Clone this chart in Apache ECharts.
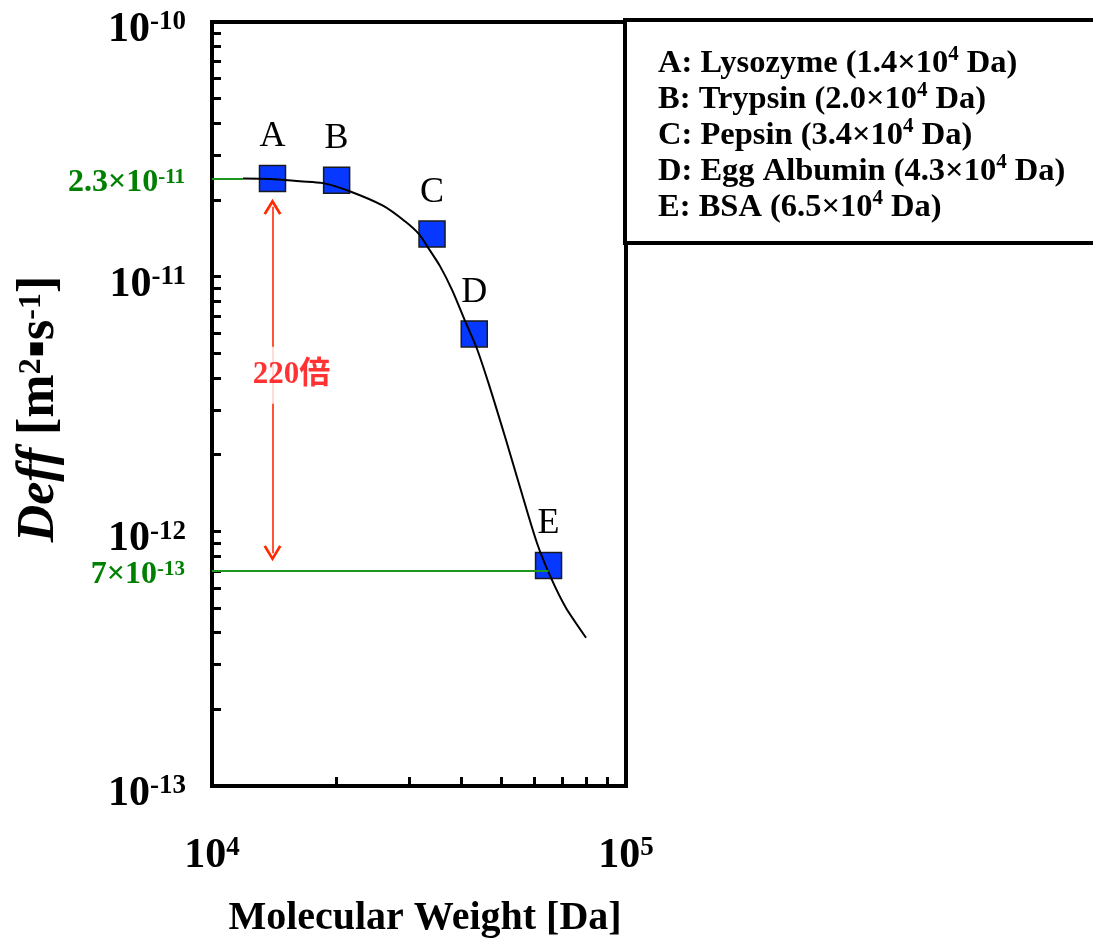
<!DOCTYPE html>
<html><head><meta charset="utf-8">
<script src="https://cdn.jsdelivr.net/npm/echarts@6/dist/echarts.min.js"></script>
<style>html,body{margin:0;padding:0;background:#fff}#c{width:1093px;height:941px}</style>
</head><body><div id="c"></div>
<script>
// ---------- data ----------
const proteinLetters = ['A', 'B', 'C', 'D', 'E'];
const proteinNames = ['Lysozyme', 'Trypsin', 'Pepsin', 'Egg Albumin', 'BSA'];
const legendMantissa = ['1.4', '2.0', '3.4', '4.3', '6.5'];
const molecularWeight = [1.4e4, 2.0e4, 3.4e4, 4.3e4, 6.5e4];
const deffValues = [2.43e-11, 2.39e-11, 1.47e-11, 5.96e-12, 7.35e-13];

const curveMW = [1.188e4, 1.381e4, 1.631e4, 1.854e4, 2.142e4, 2.588e4, 2.925e4, 3.162e4, 3.306e4, 3.554e4,
  3.800e4, 4.085e4, 4.367e4, 4.693e4, 5.103e4, 5.546e4, 6.095e4, 6.590e4, 7.164e4, 8.007e4];
const curveDeff = [2.43e-11, 2.42e-11, 2.37e-11, 2.33e-11, 2.17e-11, 1.90e-11, 1.65e-11, 1.47e-11, 1.32e-11, 1.10e-11,
  8.87e-12, 6.70e-12, 5.20e-12, 3.66e-12, 2.35e-12, 1.49e-12, 9.00e-13, 6.56e-13, 5.00e-13, 3.82e-13];

const xTickValues = [1e4, 2e4, 3e4, 4e4, 5e4, 6e4, 7e4, 8e4, 9e4, 1e5];
const xLabelValues = [1e4, 1e5];
const yTickValues = [1e-13, 2e-13, 3e-13, 4e-13, 5e-13, 6e-13, 7e-13, 8e-13, 9e-13,
  1e-12, 2e-12, 3e-12, 4e-12, 5e-12, 6e-12, 7e-12, 8e-12, 9e-12,
  1e-11, 2e-11, 3e-11, 4e-11, 5e-11, 6e-11, 7e-11, 8e-11, 9e-11, 1e-10];
const yLabelValues = [1e-13, 1e-12, 1e-11, 1e-10];

// reference lines (green)
const refLineDeff = [2.42e-11, 7e-13];
const refLineEndMW = [1.188e4, 6.5e4];
const refLineMantissa = ['2.3', '7'];
const refLineExponent = ['-11', '-13'];

// fold-change arrow (red)
const foldArrowMW = 1.4e4;
const foldArrowDeff = [1.88e-11, 8.2e-13];
const foldLabelDeff = 4.1e-12;
const foldLabelText = '220倍';

// ---------- chart ----------
const SERIF = '"Liberation Serif", "Times New Roman", "Noto Sans CJK JP", serif';
const pow10 = v => '{b|10}{s|' + Math.round(Math.log10(v)) + '}';
const tickRich = {
  b: {fontFamily: SERIF, fontWeight: 'bold', fontSize: 42, lineHeight: 42, verticalAlign: 'bottom', color: '#000'},
  s: {fontFamily: SERIF, fontWeight: 'bold', fontSize: 27, lineHeight: 32, verticalAlign: 'top', color: '#000'}
};

const chevron = 'path://M0,16 L9,0 L18,16 L15.6,17.4 L9,5.6 L2.4,17.4 Z';

const legendLines = proteinLetters.map((l, i) =>
  '{t|' + l + ': ' + proteinNames[i] + ' (' + legendMantissa[i] + '×10}{s|4}{t| Da)}').join('\n');

const chart = echarts.init(document.getElementById('c'), null, {renderer: 'canvas'});
chart.setOption({
  animation: false,
  backgroundColor: '#fff',
  title: {
    text: legendLines,
    left: 625, top: 20,
    padding: [24, 80, 19, 33],
    borderColor: '#000', borderWidth: 4, backgroundColor: '#fff',
    textStyle: {
      fontFamily: SERIF, fontWeight: 'bold', fontSize: 32.5, lineHeight: 36, color: '#000',
      rich: {
        t: {fontFamily: SERIF, fontWeight: 'bold', fontSize: 32.5, lineHeight: 36, verticalAlign: 'bottom', color: '#000'},
        s: {fontFamily: SERIF, fontWeight: 'bold', fontSize: 21, lineHeight: 28, verticalAlign: 'top', color: '#000'}
      }
    }
  },
  grid: {left: 212, top: 22, width: 414, height: 764, show: true, borderColor: '#000', borderWidth: 4,
    containLabel: false, outerBoundsMode: 'none'},
  xAxis: {
    type: 'log', logBase: 10, min: 1e4, max: 1e5,
    axisLine: {show: true, onZero: false, lineStyle: {color: '#000', width: 4}},
    axisTick: {show: true, inside: true, length: 9, lineStyle: {color: '#000', width: 3}, customValues: xTickValues},
    minorTick: {show: false},
    splitLine: {show: false},
    axisLabel: {customValues: xLabelValues, margin: 49, formatter: pow10, rich: tickRich},
    name: 'Molecular Weight [Da]', nameLocation: 'middle', nameGap: 113,
    nameTextStyle: {fontFamily: SERIF, fontWeight: 'bold', fontSize: 40, color: '#000', padding: [0, 0, 0, 12]}
  },
  yAxis: {
    type: 'log', logBase: 10, min: 1e-13, max: 1e-10,
    axisLine: {show: true, onZero: false, lineStyle: {color: '#000', width: 4}},
    axisTick: {show: true, inside: true, length: 9, lineStyle: {color: '#000', width: 3}, customValues: yTickValues},
    minorTick: {show: false},
    splitLine: {show: false},
    axisLabel: {customValues: yLabelValues, margin: 26, formatter: pow10, rich: tickRich, padding: [16, 0, 0, 0]},
    name: '{i|Deff}{b| [m}{s|2}{b|▪s}{s|-1}{b|]}', nameLocation: 'middle', nameGap: 146, nameRotate: 90,
    nameTextStyle: {
      padding: [0, 10, 0, 0],
      rich: {
        i: {fontFamily: SERIF, fontWeight: 'bold', fontStyle: 'italic', fontSize: 52, lineHeight: 50, verticalAlign: 'bottom', color: '#000'},
        b: {fontFamily: SERIF, fontWeight: 'bold', fontSize: 52, lineHeight: 50, verticalAlign: 'bottom', color: '#000'},
        s: {fontFamily: SERIF, fontWeight: 'bold', fontSize: 32, lineHeight: 34, verticalAlign: 'top', color: '#000'}
      }
    }
  },
  series: [
    {
      type: 'scatter', name: 'proteins', z: 3,
      symbol: 'rect', symbolSize: 26,
      itemStyle: {color: '#0638ff', borderColor: '#1a1a1a', borderWidth: 1.5, opacity: 1},
      label: {show: true, position: 'top', distance: 10, formatter: p => proteinLetters[p.dataIndex],
        fontFamily: SERIF, fontSize: 36, color: '#000'},
      data: molecularWeight.map((x, i) => [x, deffValues[i]]),
      markLine: {
        silent: true, symbol: ['none', 'none'], animation: false,
        lineStyle: {color: '#1e961e', width: 2, type: 'solid'},
        label: {show: true, position: 'start', distance: 27, padding: [8, 0, 0, 0],
          formatter: p => '{b|' + refLineMantissa[p.dataIndex] + '×10}{s|' + refLineExponent[p.dataIndex] + '}',
          rich: {
            b: {fontFamily: SERIF, fontWeight: 'bold', fontSize: 32, lineHeight: 32, verticalAlign: 'bottom', color: '#008000'},
            s: {fontFamily: SERIF, fontWeight: 'bold', fontSize: 21, lineHeight: 24, verticalAlign: 'top', color: '#008000'}
          }
        },
        data: refLineDeff.map((d, i) => [{coord: [1e4, d]}, {coord: [refLineEndMW[i], d]}])
      }
    },
    {
      type: 'line', name: 'fit', z: 4,
      data: curveMW.map((x, i) => [x, curveDeff[i]]),
      showSymbol: false, symbol: 'none', smooth: 0.3,
      lineStyle: {color: '#000', width: 2}
    },
    {
      type: 'scatter', name: 'fold', z: 5,
      symbol: 'circle', symbolSize: 1, itemStyle: {color: 'rgba(0,0,0,0)'},
      label: {show: true, position: 'inside', offset: [19, 0], formatter: foldLabelText,
        fontFamily: SERIF, fontWeight: 'bold', fontSize: 31, color: '#ff0000',
        backgroundColor: '#fff', padding: [13, 2]},
      data: [[foldArrowMW, foldLabelDeff]],
      markLine: {
        silent: true, animation: false, z: 2,
        symbol: [chevron, chevron], symbolSize: [18, 16],
        lineStyle: {color: '#ff2a00', width: 1.6, type: 'solid'},
        label: {show: false},
        data: [[{coord: [foldArrowMW, foldArrowDeff[0]]}, {coord: [foldArrowMW, foldArrowDeff[1]]}]]
      }
    }
  ]
});
</script>
</body></html>
